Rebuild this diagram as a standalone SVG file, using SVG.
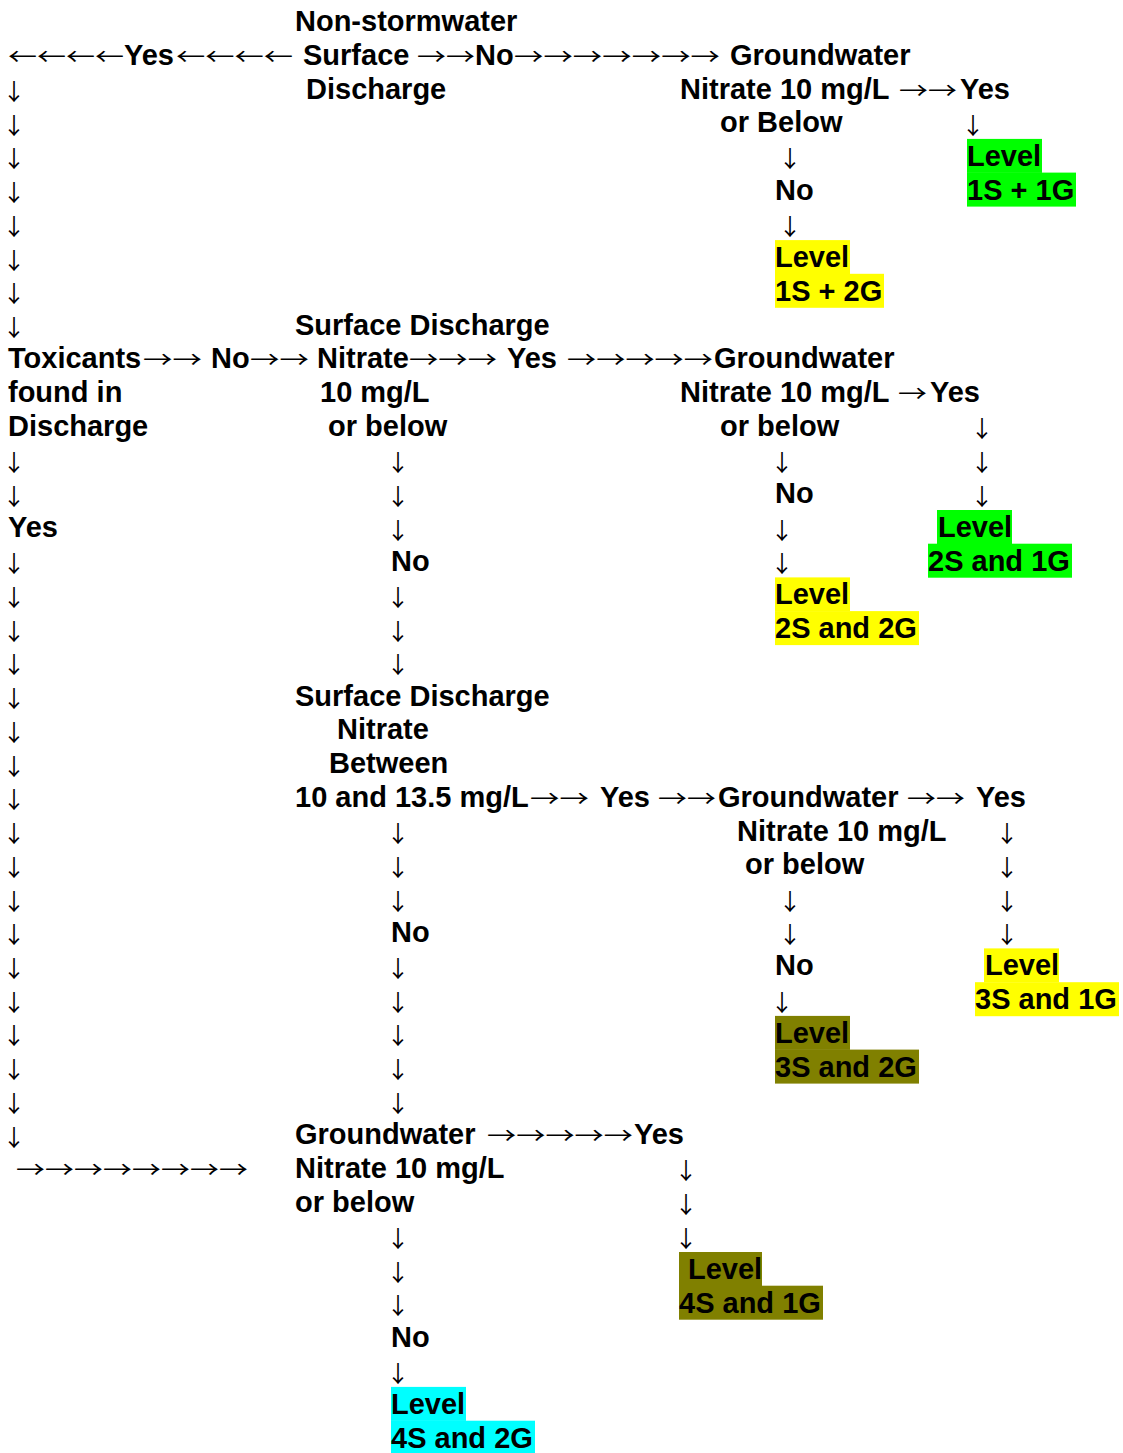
<svg xmlns="http://www.w3.org/2000/svg" width="1123" height="1453" viewBox="0 0 1123 1453">
<style>
text{font-family:"Liberation Sans",Arial,sans-serif;font-size:29px;fill:#000}
.t{font-weight:bold}
.a{font-family:"Noto Sans CJK JP","Noto Sans CJK SC","Liberation Sans",sans-serif;font-weight:normal;font-size:23px}
.d{font-family:"Noto Sans CJK JP","Noto Sans CJK SC","Liberation Sans",sans-serif;font-weight:normal;font-size:23px;text-anchor:middle}
.g{fill:#00ff00}.y{fill:#ffff00}.o{fill:#808000}.c{fill:#00ffff}
</style>
<rect width="1123" height="1453" fill="#ffffff"/>
<g id="n1">
<text class="t" x="295" y="31">Non-stormwater</text>
<text class="t" x="303" y="64.7">Surface</text>
<text class="t" x="306" y="98.5">Discharge</text>
</g>
<g id="n2">
<text class="t" x="730" y="64.7">Groundwater</text>
<text class="t" x="680" y="98.5">Nitrate 10 mg/L</text>
<text class="t" x="720" y="132.2">or Below</text>
</g>
<g id="n3">
<rect class="g" x="967" y="138.9" width="75" height="34"/>
<rect class="g" x="967" y="172.6" width="109" height="34"/>
<text class="t" x="967" y="165.9">Level</text>
<text class="t" x="967" y="199.7">1S + 1G</text>
</g>
<g id="n4">
<rect class="y" x="775" y="240.1" width="75" height="34"/>
<rect class="y" x="775" y="273.8" width="109" height="34"/>
<text class="t" x="775" y="267.1">Level</text>
<text class="t" x="775" y="300.8">1S + 2G</text>
</g>
<g id="n5">
<text class="t" x="8" y="368.3">Toxicants</text>
<text class="t" x="8" y="402">found in</text>
<text class="t" x="8" y="435.8">Discharge</text>
</g>
<g id="n6">
<text class="t" x="295" y="334.6">Surface Discharge</text>
<text class="t" x="317" y="368.3">Nitrate</text>
<text class="t" x="320" y="402">10 mg/L</text>
<text class="t" x="328" y="435.8">or below</text>
</g>
<g id="n7">
<text class="t" x="714" y="368.3">Groundwater</text>
<text class="t" x="680" y="402">Nitrate 10 mg/L</text>
<text class="t" x="720" y="435.8">or below</text>
</g>
<g id="n8">
<rect class="g" x="937" y="510" width="75" height="34"/>
<rect class="g" x="928" y="543.7" width="144" height="34"/>
<text class="t" x="938" y="537">Level</text>
<text class="t" x="928" y="570.7">2S and 1G</text>
</g>
<g id="n9">
<rect class="y" x="775" y="577.4" width="75" height="34"/>
<rect class="y" x="775" y="611.1" width="144" height="34"/>
<text class="t" x="775" y="604.4">Level</text>
<text class="t" x="775" y="638.1">2S and 2G</text>
</g>
<g id="n10">
<text class="t" x="295" y="705.6">Surface Discharge</text>
<text class="t" x="337" y="739.3">Nitrate</text>
<text class="t" x="329" y="773.1">Between</text>
<text class="t" x="295" y="806.8">10 and 13.5 mg/L</text>
</g>
<g id="n11">
<text class="t" x="718" y="806.8">Groundwater</text>
<text class="t" x="737" y="840.5">Nitrate 10 mg/L</text>
<text class="t" x="745" y="874.3">or below</text>
</g>
<g id="n12">
<rect class="y" x="984" y="948.4" width="75" height="34"/>
<rect class="y" x="975" y="982.2" width="144" height="34"/>
<text class="t" x="985" y="975.4">Level</text>
<text class="t" x="975" y="1009.2">3S and 1G</text>
</g>
<g id="n13">
<rect class="o" x="775" y="1015.9" width="75" height="34"/>
<rect class="o" x="775" y="1049.6" width="144" height="34"/>
<text class="t" x="775" y="1042.9">Level</text>
<text class="t" x="775" y="1076.6">3S and 2G</text>
</g>
<g id="n14">
<text class="t" x="295" y="1144.1">Groundwater</text>
<text class="t" x="295" y="1177.8">Nitrate 10 mg/L</text>
<text class="t" x="295" y="1211.6">or below</text>
</g>
<g id="n15">
<rect class="o" x="679" y="1252" width="83" height="34"/>
<rect class="o" x="679" y="1285.7" width="144" height="34"/>
<text class="t" x="688" y="1279">Level</text>
<text class="t" x="679" y="1312.7">4S and 1G</text>
</g>
<g id="n16">
<rect class="c" x="391" y="1386.9" width="75" height="34"/>
<rect class="c" x="391" y="1420.7" width="144" height="34"/>
<text class="t" x="391" y="1413.9">Level</text>
<text class="t" x="391" y="1447.7">4S and 2G</text>
</g>
<g id="connectors">
<text class="a" x="8" y="64.7" textLength="116" lengthAdjust="spacingAndGlyphs">←←←←</text>
<text class="t" x="124" y="64.7">Yes</text>
<text class="a" x="176" y="64.7" textLength="117" lengthAdjust="spacingAndGlyphs">←←←←</text>
<text class="a" x="417" y="64.7" textLength="58" lengthAdjust="spacingAndGlyphs">→→</text>
<text class="t" x="475" y="64.7">No</text>
<text class="a" x="514" y="64.7" textLength="206" lengthAdjust="spacingAndGlyphs">→→→→→→→</text>
<text class="a" x="899" y="98.5" textLength="58" lengthAdjust="spacingAndGlyphs">→→</text>
<text class="t" x="960" y="98.5">Yes</text>
<text class="d" x="973" y="133.5">↓</text>
<text class="d" x="790" y="167.4">↓</text>
<text class="t" x="775" y="199.7">No</text>
<text class="d" x="790" y="234.9">↓</text>
<text class="d"><tspan x="14" y="100">↓</tspan><tspan x="14" y="133.7">↓</tspan><tspan x="14" y="167.4">↓</tspan><tspan x="14" y="201.2">↓</tspan><tspan x="14" y="234.9">↓</tspan><tspan x="14" y="268.6">↓</tspan><tspan x="14" y="302.3">↓</tspan><tspan x="14" y="336.1">↓</tspan></text>
<text class="d"><tspan x="14" y="471">↓</tspan><tspan x="14" y="504.7">↓</tspan></text>
<text class="t" x="8" y="537">Yes</text>
<text class="d"><tspan x="14" y="572.2">↓</tspan><tspan x="14" y="605.9">↓</tspan><tspan x="14" y="639.6">↓</tspan><tspan x="14" y="673.4">↓</tspan><tspan x="14" y="707.1">↓</tspan><tspan x="14" y="740.8">↓</tspan><tspan x="14" y="774.6">↓</tspan><tspan x="14" y="808.3">↓</tspan><tspan x="14" y="842">↓</tspan><tspan x="14" y="875.8">↓</tspan><tspan x="14" y="909.5">↓</tspan><tspan x="14" y="943.2">↓</tspan><tspan x="14" y="976.9">↓</tspan><tspan x="14" y="1010.7">↓</tspan><tspan x="14" y="1044.4">↓</tspan><tspan x="14" y="1078.1">↓</tspan><tspan x="14" y="1111.9">↓</tspan><tspan x="14" y="1145.6">↓</tspan></text>
<text class="a" x="16" y="1177.8" textLength="232" lengthAdjust="spacingAndGlyphs">→→→→→→→→</text>
<text class="a" x="143" y="368.3" textLength="59" lengthAdjust="spacingAndGlyphs">→→</text>
<text class="t" x="211" y="368.3">No</text>
<text class="a" x="250" y="368.3" textLength="59" lengthAdjust="spacingAndGlyphs">→→</text>
<text class="a" x="409" y="368.3" textLength="88" lengthAdjust="spacingAndGlyphs">→→→</text>
<text class="t" x="507" y="368.3">Yes</text>
<text class="a" x="567" y="368.3" textLength="146" lengthAdjust="spacingAndGlyphs">→→→→→</text>
<text class="a" x="898" y="402" textLength="29" lengthAdjust="spacingAndGlyphs">→</text>
<text class="t" x="930" y="402">Yes</text>
<text class="d"><tspan x="982" y="437.3">↓</tspan><tspan x="982" y="471">↓</tspan><tspan x="982" y="504.7">↓</tspan></text>
<text class="d" x="782" y="471">↓</text>
<text class="t" x="775" y="503.2">No</text>
<text class="d"><tspan x="782" y="538.5">↓</tspan><tspan x="782" y="572.2">↓</tspan></text>
<text class="d"><tspan x="398" y="471">↓</tspan><tspan x="398" y="504.7">↓</tspan><tspan x="398" y="538.5">↓</tspan></text>
<text class="t" x="391" y="570.7">No</text>
<text class="d"><tspan x="398" y="605.9">↓</tspan><tspan x="398" y="639.6">↓</tspan><tspan x="398" y="673.4">↓</tspan></text>
<text class="a" x="530" y="806.8" textLength="59" lengthAdjust="spacingAndGlyphs">→→</text>
<text class="t" x="600" y="806.8">Yes</text>
<text class="a" x="658" y="806.8" textLength="58" lengthAdjust="spacingAndGlyphs">→→</text>
<text class="a" x="907" y="806.8" textLength="58" lengthAdjust="spacingAndGlyphs">→→</text>
<text class="t" x="976" y="806.8">Yes</text>
<text class="d"><tspan x="1007" y="842">↓</tspan><tspan x="1007" y="875.8">↓</tspan><tspan x="1007" y="909.5">↓</tspan><tspan x="1007" y="943.2">↓</tspan></text>
<text class="d"><tspan x="790" y="909.5">↓</tspan><tspan x="790" y="943.2">↓</tspan></text>
<text class="t" x="775" y="975.4">No</text>
<text class="d" x="782" y="1010.7">↓</text>
<text class="d"><tspan x="398" y="842">↓</tspan><tspan x="398" y="875.8">↓</tspan><tspan x="398" y="909.5">↓</tspan></text>
<text class="t" x="391" y="941.7">No</text>
<text class="d"><tspan x="398" y="976.9">↓</tspan><tspan x="398" y="1010.7">↓</tspan><tspan x="398" y="1044.4">↓</tspan><tspan x="398" y="1078.1">↓</tspan><tspan x="398" y="1111.9">↓</tspan></text>
<text class="a" x="487" y="1144.1" textLength="146" lengthAdjust="spacingAndGlyphs">→→→→→</text>
<text class="t" x="634" y="1144.1">Yes</text>
<text class="d"><tspan x="686" y="1179.3">↓</tspan><tspan x="686" y="1213.1">↓</tspan><tspan x="686" y="1246.8">↓</tspan></text>
<text class="d"><tspan x="398" y="1246.8">↓</tspan><tspan x="398" y="1280.5">↓</tspan><tspan x="398" y="1314.2">↓</tspan></text>
<text class="t" x="391" y="1346.5">No</text>
<text class="d" x="398" y="1381.7">↓</text>
</g>
</svg>
